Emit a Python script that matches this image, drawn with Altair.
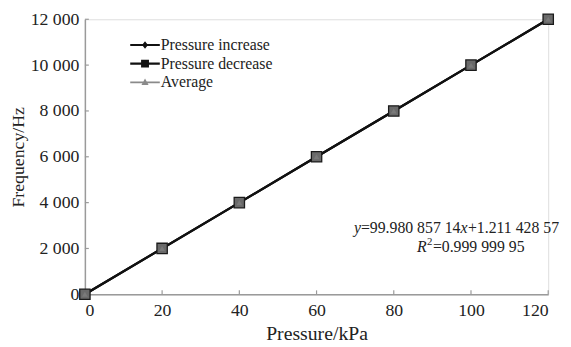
import altair as alt
import pandas as pd

# ---- data ----
pressure = [0, 20, 40, 60, 80, 100, 120]
freq_increase = [1, 2001, 4001, 6000, 7999, 9998, 11999]
freq_decrease = [1, 2002, 4000, 6001, 8000, 9999, 11999]
freq_average = [1, 2001, 4000, 6000, 8000, 9998, 11999]
series_names = ["Pressure increase", "Pressure decrease", "Average"]
x_ticks = [0, 20, 40, 60, 80, 100, 120]
y_ticks = [0, 2000, 4000, 6000, 8000, 10000, 12000]

rows = []
for name, vals in zip(series_names, [freq_increase, freq_decrease, freq_average]):
    for p, f in zip(pressure, vals):
        rows.append({"series": name, "pressure": p, "freq": f})
df = pd.DataFrame(rows)

W, H = 470, 279
FONT = "Liberation Serif"
AXIS_GREY = "#9a9a9a"
TEXT = "#222222"

xscale = alt.Scale(domain=[0, 120], nice=False)
yscale = alt.Scale(domain=[0, 12000], nice=False)

X = alt.X("pressure:Q", scale=xscale,
          axis=alt.Axis(title="Pressure/kPa", values=x_ticks, grid=False,
                        tickSize=0, domainColor=AXIS_GREY, domainWidth=1.5,
                        labelFont=FONT, labelFontSize=18, labelColor=TEXT,
                        labelPadding=8, titleFont=FONT, titleFontSize=20,
                        titleFontWeight="normal", titleColor=TEXT, titlePadding=4))
Y = alt.Y("freq:Q", scale=yscale,
          axis=alt.Axis(title="Frequency/Hz", values=y_ticks, grid=False,
                        tickSize=0, domainColor=AXIS_GREY, domainWidth=1.5,
                        labelFont=FONT, labelFontSize=18, labelColor=TEXT,
                        labelPadding=6,
                        labelExpr="replace(format(datum.value, ','), ',', ' ')",
                        titleFont=FONT, titleFontSize=18, titleFontWeight="normal",
                        titleColor=TEXT, titlePadding=3))

base = alt.Chart(df)

def series_line(name, color, width):
    return base.transform_filter(alt.datum.series == name).mark_line(
        color=color, strokeWidth=width).encode(x=X, y=Y)

line_avg = series_line("Average", "#888888", 2.2)
line_dec = series_line("Pressure decrease", "#111111", 2.2)
line_inc = series_line("Pressure increase", "#111111", 2.2)

pts_inc = base.transform_filter(alt.datum.series == "Pressure increase").mark_point(
    shape="diamond", filled=True, size=60, color="#111111", opacity=1).encode(x=X, y=Y)
pts_dec = base.transform_filter(alt.datum.series == "Pressure decrease").mark_point(
    shape="square", filled=True, size=110, fill="#6a6a6a", stroke="#1a1a1a",
    strokeWidth=1.3, opacity=1).encode(x=X, y=Y)
pts_avg = base.transform_filter(alt.datum.series == "Average").mark_point(
    shape="triangle-up", filled=True, size=35, color="#7a7a7a", opacity=1).encode(x=X, y=Y)

# inward tick marks (same encodings as the axes so the axes merge)
xt = pd.DataFrame({"pressure": x_ticks})
yt = pd.DataFrame({"freq": y_ticks})
xtick_marks = alt.Chart(xt).mark_rule(color=AXIS_GREY, strokeWidth=1.2).encode(
    x=X, y=alt.value(H), y2=alt.value(H - 4))
ytick_marks = alt.Chart(yt).mark_rule(color=AXIS_GREY, strokeWidth=1.2).encode(
    y=Y, x=alt.value(0), x2=alt.value(4))

# legend (custom symbols: line + marker)
leg_paths = [
    "M-1.5,-0.1L1.5,-0.1L1.5,0.1L-1.5,0.1Z M0,-0.38L0.3,0L0,0.38L-0.3,0Z",
    "M-1.5,-0.12L1.5,-0.12L1.5,0.12L-1.5,0.12Z M-0.4,-0.4L0.4,-0.4L0.4,0.4L-0.4,0.4Z",
    "M-1.5,-0.08L1.5,-0.08L1.5,0.08L-1.5,0.08Z M0,-0.38L0.36,0.28L-0.36,0.28Z",
]
leg = alt.Legend(title=None, orient="none", legendX=51, legendY=16,
                 symbolSize=400, symbolStrokeWidth=0,
                 labelFont=FONT, labelFontSize=16, labelColor=TEXT,
                 labelOffset=6, rowPadding=1, padding=0, symbolOpacity=1)
legend_layer = base.transform_filter("false").mark_point(filled=True, size=400, opacity=1).encode(
    x=X, y=Y,
    shape=alt.Shape("series:N", scale=alt.Scale(domain=series_names, range=leg_paths), legend=leg),
    color=alt.Color("series:N", scale=alt.Scale(domain=series_names,
                                                range=["#111111", "#111111", "#8a8a8a"]),
                    legend=leg),
)

# regression annotation
ann = pd.DataFrame({"k": [0]})
def txt(s, x, y, italic=False, size=16, align="left"):
    return alt.Chart(ann).mark_text(text=s, font=FONT, fontSize=size, color=TEXT,
                                    fontStyle="italic" if italic else "normal",
                                    align=align, baseline="middle").encode(
        x=alt.value(x), y=alt.value(y))

ann_layers = [
    txt("+1.211 428 57", 481, 212, align="right"),
    txt("x", 388, 212, italic=True, align="right"),
    txt("=99.980 857 14", 381, 212, align="right"),
    txt("y", 280, 212, italic=True, align="right"),
    txt("R", 337, 231, italic=True),
    txt("2", 347, 226, size=11),
    txt("=0.999 999 95", 353, 231),
]

chart = alt.layer(
    line_avg, line_dec, line_inc, xtick_marks, ytick_marks,
    pts_inc, pts_dec, pts_avg, legend_layer, *ann_layers
).resolve_scale(color="independent", shape="independent").properties(
    width=W, height=H,
    autosize=alt.AutoSizeParams(type="none"),
    padding={"left": 78, "top": 9, "right": 15, "bottom": 50},
).configure_view(stroke=None).configure(background="white")

chart.save("out.html", embed_options={"renderer": "svg", "actions": False})
